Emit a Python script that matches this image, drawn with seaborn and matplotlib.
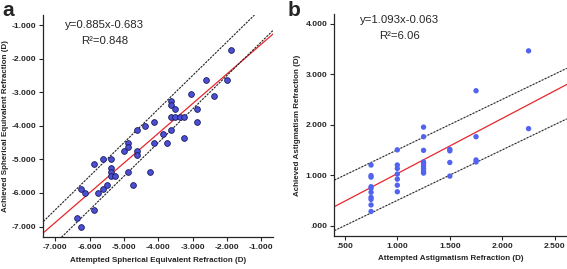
import numpy as np
import pandas as pd
import matplotlib
matplotlib.use("Agg")
import matplotlib.pyplot as plt
from matplotlib.ticker import FuncFormatter
import seaborn as sns

# panel a: spherical equivalent (D)
sph_attempted = [-4.125, -4.375, -4.625, -3.875, -3.75, -4.125, -4.875, -4.875, -5.0, -4.625,
                 -4.625, -5.875, -5.625, -5.375, -5.375, -5.375, -5.375, -5.25, -4.875, -4.25,
                 -4.75, -5.5, -5.625, -5.75, -6.125, -6.25, -5.875, -6.375, -6.25,
                 -1.875, -2.625, -2.0, -3.06, -2.375, -3.625, -3.625, -3.5, -2.875, -3.625,
                 -3.5, -3.375, -3.25, -2.875, -3.625, -3.25]
sph_achieved = [-3.875, -4.0, -4.125, -4.25, -4.5, -4.5, -4.5, -4.625, -4.75, -4.75,
                -4.875, -5.125, -5.0, -5.0, -5.25, -5.375, -5.5, -5.5, -5.375, -5.375,
                -5.75, -5.75, -5.875, -6.0, -6.0, -5.875, -6.5, -6.75, -7.0,
                -1.75, -2.625, -2.625, -3.06, -3.125, -3.25, -3.375, -3.5, -3.5, -3.75,
                -3.75, -3.75, -3.75, -3.875, -4.125, -4.375]
sph_fit = (0.885, -0.683)
sph_r2 = "0.848"

# panel b: astigmatism (D)
ast_attempted = [0.75] * 10 + [1.0] * 7 + [1.25] * 9 + [1.5] * 4 + [1.75] * 4 + [2.25] * 2
ast_achieved = [1.20, 0.99, 0.96, 0.77, 0.74, 0.66, 0.56, 0.52, 0.41, 0.28,
                1.50, 1.20, 1.13, 1.02, 0.92, 0.80, 0.67,
                1.95, 1.76, 1.49, 1.26, 1.22, 1.17, 1.12, 1.07, 1.04,
                1.51, 1.48, 1.25, 0.98,
                2.67, 1.76, 1.30, 1.26,
                3.46, 1.92]
ast_fit = (1.093, -0.063)
ast_r2 = "6.06"

band = 0.5  # +/- 0.5 D reference lines

sns.set_style("ticks")
plt.rcParams['font.family'] = ['Liberation Sans', 'DejaVu Sans']

df_a = pd.DataFrame({'att': sph_attempted, 'ach': sph_achieved})
df_b = pd.DataFrame({'att': ast_attempted, 'ach': ast_achieved})


def fmt(v, pos):
    s = f"{v:.3f}"
    if s.startswith("0."):
        s = s[1:]
    elif s.startswith("-0."):
        s = "-" + s[2:]
    return s


def style_axis(ax, xlabel, ylabel, ylab_x):
    ax.xaxis.set_major_formatter(FuncFormatter(fmt))
    ax.yaxis.set_major_formatter(FuncFormatter(fmt))
    ax.tick_params(labelsize=6.1, length=3, width=0.8, pad=2)
    for lab in ax.get_xticklabels() + ax.get_yticklabels():
        lab.set_fontweight('bold')
    ax.set_xlabel(xlabel, fontsize=5.8, fontweight='bold', labelpad=4)
    ax.set_ylabel(ylabel, fontsize=5.8, fontweight='bold')
    ax.yaxis.set_label_coords(ylab_x, 0.5)
    sns.despine(ax=ax)
    for sp in ax.spines.values():
        sp.set_linewidth(0.9)


def draw_lines(ax, fit):
    ax.axline((0, fit[1]), slope=fit[0], color='#e8262b', lw=0.9, zorder=2)
    ax.axline((0, band), slope=1, color='#222222', lw=0.8, ls=(0, (2, 1)), zorder=2)
    ax.axline((0, -band), slope=1, color='#222222', lw=0.8, ls=(0, (2, 1)), zorder=2)


fig = plt.figure(figsize=(5.67, 2.69), dpi=100)
ax1 = fig.add_axes([0.0764, 0.118, 0.4056, 0.826])
ax2 = fig.add_axes([0.5896, 0.123, 0.41, 0.825])

# panel a
ax1.set_xlim(-7.35, -0.65)
ax1.set_ylim(-7.32, -0.70)
draw_lines(ax1, sph_fit)
sns.scatterplot(data=df_a, x='att', y='ach', ax=ax1, s=17, color='#4b4fd6',
                edgecolor='#1a1a5a', linewidth=0.6, zorder=3)
ax1.set_xticks(np.arange(-7, 0, 1))
ax1.set_yticks(np.arange(-7, 0, 1))
style_axis(ax1, 'Attempted Spherical Equivalent Refraction (D)',
           'Achieved Spherical Equivalent Refraction (D)', -0.148)
ax1.text(0.268, 0.955, f"y={sph_fit[0]:.3f}x{sph_fit[1]:+.3f}".replace('+', ''),
         transform=ax1.transAxes, ha='center', va='center', fontsize=8.2)
ax1.text(0.268, 0.885, f"R²={sph_r2}", transform=ax1.transAxes,
         ha='center', va='center', fontsize=8.2)

# panel b
ax2.set_xlim(0.40, 2.614)
ax2.set_ylim(-0.204, 4.19)
draw_lines(ax2, ast_fit)
sns.scatterplot(data=df_b, x='att', y='ach', ax=ax2, s=15, color='#5263f0',
                edgecolor='none', zorder=3)
ax2.set_xticks(np.arange(0.5, 2.51, 0.5))
ax2.set_yticks(np.arange(0, 4.01, 1))
style_axis(ax2, 'Attempted Astigmatism Refraction (D)',
           'Achieved Astigmatism Refraction (D)', -0.142)
ax2.text(0.282, 0.972, f"y={ast_fit[0]:.3f}x{ast_fit[1]:+.3f}".replace('+', ''),
         transform=ax2.transAxes, ha='center', va='center', fontsize=8.2)
ax2.text(0.282, 0.902, f"R²={ast_r2}", transform=ax2.transAxes,
         ha='center', va='center', fontsize=8.2)

fig.text(0.004, 0.995, 'a', fontsize=15, fontweight='bold', va='top', ha='left')
fig.text(0.508, 0.995, 'b', fontsize=15, fontweight='bold', va='top', ha='left')

fig.savefig('out.png', dpi=100)
